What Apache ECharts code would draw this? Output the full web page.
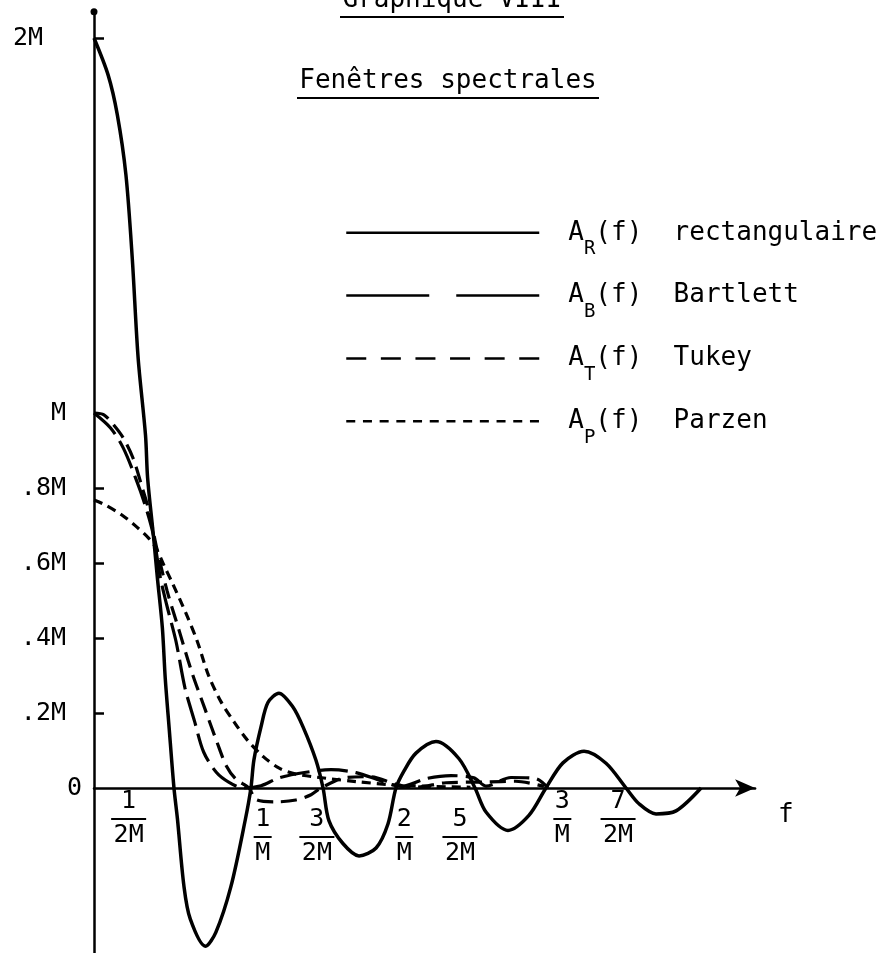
<!DOCTYPE html>
<html>
<head>
<meta charset="utf-8">
<script src="https://cdn.jsdelivr.net/npm/echarts@6/dist/echarts.min.js"></script>
<style>
  html, body { margin: 0; background: #fff; }
  #chart { width: 885px; height: 953px; }
</style>
</head>
<body>
<div id="chart"></div>
<script>
// f en unités de 1/M, amplitude en unités de M
const rectF = [0, 0.094, 0.155, 0.212, 0.254, 0.293, 0.342, 0.356, 0.394, 0.421, 0.454, 0.473, 0.499, 0.531, 0.554, 0.597, 0.639, 0.741, 0.809, 0.909, 1.005, 1.042, 1.062, 1.109, 1.155, 1.228, 1.321, 1.388, 1.474, 1.521, 1.560, 1.653, 1.760, 1.873, 1.952, 2.005, 2.058, 2.138, 2.271, 2.424, 2.530, 2.603, 2.749, 2.888, 3.001, 3.114, 3.254, 3.400, 3.533, 3.619, 3.732, 3.865, 4.031]
const rectA = [2.0, 1.901, 1.795, 1.635, 1.413, 1.147, 0.941, 0.827, 0.675, 0.56, 0.427, 0.293, 0.16, 0, -0.082, -0.261, -0.349, -0.422, -0.385, -0.263, -0.084, 0, 0.075, 0.163, 0.228, 0.253, 0.216, 0.163, 0.074, 0, -0.087, -0.148, -0.181, -0.160, -0.096, 0, 0.045, 0.093, 0.124, 0.078, 0, -0.064, -0.113, -0.073, 0, 0.067, 0.098, 0.066, 0, -0.042, -0.069, -0.061, 0]

const bartF = [0, 0.110, 0.194, 0.276, 0.339, 0.394, 0.441, 0.483, 0.544, 0.604, 0.667, 0.728, 0.812, 0.897, 0.989, 1.109, 1.228, 1.408, 1.574, 1.740, 1.906, 2.039, 2.205, 2.371, 2.523, 2.603, 2.769, 2.935, 3.015]
const bartA = [1.0, 0.96, 0.907, 0.827, 0.755, 0.675, 0.56, 0.488, 0.392, 0.267, 0.179, 0.096, 0.042, 0.015, 0, 0.006, 0.027, 0.042, 0.049, 0.041, 0.019, 0.004, 0.025, 0.033, 0.027, 0.005, 0.028, 0.025, 0]

const tukF = [0, 0.066, 0.131, 0.195, 0.259, 0.321, 0.365, 0.412, 0.486, 0.566, 0.647, 0.735, 0.817, 0.880, 0.944, 1.029, 1.076, 1.209, 1.341, 1.441, 1.507, 1.673, 1.839, 2.005, 2.138, 2.337, 2.603, 2.80, 2.988]
const tukA = [1.0, 0.995, 0.968, 0.933, 0.88, 0.80, 0.739, 0.648, 0.525, 0.419, 0.312, 0.213, 0.122, 0.058, 0.023, 0, -0.031, -0.037, -0.032, -0.018, 0, 0.028, 0.030, 0.010, 0.002, 0.014, 0.016, 0.018, 0.004]

const parzF = [0, 0.073, 0.185, 0.27, 0.361, 0.412, 0.463, 0.52, 0.616, 0.685, 0.760, 0.842, 0.932, 1.016, 1.126, 1.23, 1.341, 1.54, 1.74, 2.005, 2.271, 2.5]
const parzA = [0.768, 0.755, 0.728, 0.701, 0.667, 0.64, 0.595, 0.547, 0.461, 0.392, 0.301, 0.231, 0.175, 0.129, 0.083, 0.053, 0.037, 0.026, 0.017, 0.008, 0.004, 0.002]

// graduations
const yLabelPos = [0, 0.2, 0.4, 0.6, 0.8, 1, 2]
const yLabelText = ['0', '.2M', '.4M', '.6M', '.8M', 'M', '2M']
const yTickPos = [0.2, 0.4, 0.6, 0.8, 2]

const fLabelPos = [0.23, 1.12, 1.48, 2.06, 2.43, 3.11, 3.48]
const fLabelNum = ['1', '1', '3', '2', '5', '3', '7']
const fLabelDen = ['2M', 'M', '2M', 'M', '2M', 'M', '2M']
const fLabelLow = [false, true, true, true, true, false, false]

const seriesNames = ['rectangulaire', 'Bartlett', 'Tukey', 'Parzen']
const seriesSubs = ['R', 'B', 'T', 'P']

const ink = '#000'
const mono = 'DejaVu Sans Mono'
const zip = (xs, ys) => xs.map((x, i) => [x, ys[i]])
const closest = (arr, v) => {
  let best = 0
  arr.forEach((p, i) => { if (Math.abs(p - v) < Math.abs(arr[best] - v)) best = i })
  return best
}

const curves = [
  { data: zip(rectF, rectA), dash: 'solid', legendDash: 'solid' },
  { data: zip(bartF, bartA), dash: [30, 8], legendDash: [83, 27] },
  { data: zip(tukF, tukA), dash: [16, 8], legendDash: [20, 14.6] },
  { data: zip(parzF, parzA), dash: [9, 6], legendDash: [9, 7.7] },
]

// the labels stay at the grid bottom, 165px under the zero line
const yMin = -0.44
const pxPerM = 375

const chart = echarts.init(document.getElementById('chart'))

chart.setOption({
  animation: false,
  backgroundColor: '#fff',
  textStyle: { fontFamily: mono, color: ink },
  grid: { left: 94, top: 11.75, width: 661.1, height: 941.25, containLabel: false, outerBoundsMode: 'none' },
  graphic: [
    { type: 'text', x: 452, y: 0.5, style: { text: 'Graphique VIII', fontFamily: mono, fontSize: 26, fill: ink, align: 'center', verticalAlign: 'middle' } },
    { type: 'line', shape: { x1: 340, y1: 17, x2: 564, y2: 17 }, style: { stroke: ink, lineWidth: 2 } },
    { type: 'text', x: 448, y: 81, style: { text: 'Fenêtres spectrales', fontFamily: mono, fontSize: 26, fill: ink, align: 'center', verticalAlign: 'middle' } },
    { type: 'line', shape: { x1: 297, y1: 98, x2: 599, y2: 98 }, style: { stroke: ink, lineWidth: 2 } },
  ],
  legend: {
    orient: 'vertical',
    left: 340,
    top: 207,
    itemWidth: 193,
    itemHeight: 52,
    itemGap: 16,
    selectedMode: false,
    textStyle: {
      fontFamily: mono, fontSize: 26, color: ink, padding: [0, 0, 0, 24],
      rich: {
        a: { fontFamily: mono, fontSize: 26, color: ink, lineHeight: 52 },
        s: { fontFamily: mono, fontSize: 19, color: ink, lineHeight: 52, verticalAlign: 'bottom' },
      }
    },
    formatter: (name) => {
      const sub = seriesSubs[seriesNames.indexOf(name)]
      return `{a|A}{s|${sub}}{a|(f)  ${name}}`
    },
    data: seriesNames.map((name, i) => ({
      name,
      itemStyle: { color: 'rgba(0,0,0,0)', borderWidth: 0, opacity: 0 },
      lineStyle: { color: ink, width: 2.5, type: curves[i].legendDash },
    })),
  },
  xAxis: {
    type: 'value',
    min: 0,
    max: 4.39,
    splitLine: { show: false },
    axisTick: { show: false },
    axisLine: {
      show: true,
      lineStyle: { color: ink, width: 2.5 },
      symbol: ['none', 'arrow'],
      symbolSize: [13, 20],
    },
    name: 'f',
    nameLocation: 'end',
    nameGap: 23,
    nameTextStyle: { fontFamily: mono, fontSize: 26, color: ink, verticalAlign: 'top', padding: [14, 0, 0, 0] },
    axisLabel: {
      customValues: fLabelPos,
      margin: yMin * pxPerM,
      formatter: (v) => {
        const i = closest(fLabelPos, v)
        const bar = fLabelDen[i].length > 1 ? 'bw' : 'bn'
        const head = fLabelLow[i] ? '{s| }\n' : ''
        return head + `{n|${fLabelNum[i]}}\n{${bar}| }\n{d|${fLabelDen[i]}}`
      },
      rich: {
        s: { fontSize: 1, lineHeight: 18 },
        n: { fontFamily: mono, fontSize: 25, lineHeight: 26, color: ink },
        d: { fontFamily: mono, fontSize: 25, lineHeight: 22, color: ink },
        bw: { fontSize: 1, width: 35, height: 2, lineHeight: 10, backgroundColor: ink },
        bn: { fontSize: 1, width: 18, height: 2, lineHeight: 10, backgroundColor: ink },
      }
    }
  },
  yAxis: {
    type: 'value',
    min: yMin,
    max: 2.07,
    splitLine: { show: false },
    axisLine: {
      show: true,
      lineStyle: { color: ink, width: 2.5 },
      symbol: ['none', 'circle'],
      symbolSize: [7, 7],
    },
    axisTick: {
      show: true, inside: true, length: 10,
      customValues: yTickPos,
      lineStyle: { color: ink, width: 2.5 },
    },
    axisLabel: {
      customValues: yLabelPos,
      margin: 10,
      formatter: (v) => {
        const t = yLabelText[closest(yLabelPos, v)]
        const st = t === '0' ? 'z' : t === '2M' ? 'w' : 'a'
        return `{${st}|${t}}`
      },
      rich: {
        a: { fontFamily: mono, fontSize: 25, color: ink, padding: [0, 18, 0, 0] },
        z: { fontFamily: mono, fontSize: 25, color: ink, padding: [0, 2, 0, 0] },
        w: { fontFamily: mono, fontSize: 25, color: ink, padding: [0, 41, 0, 0] },
      }
    }
  },
  series: seriesNames.map((name, i) => ({
    name,
    type: 'line',
    data: curves[i].data,
    symbol: 'none',
    smooth: 0.3,
    lineStyle: { color: ink, width: i === 0 ? 3.5 : 3.2, type: curves[i].dash },
    itemStyle: { color: ink },
  })),
})
</script>
</body>
</html>
